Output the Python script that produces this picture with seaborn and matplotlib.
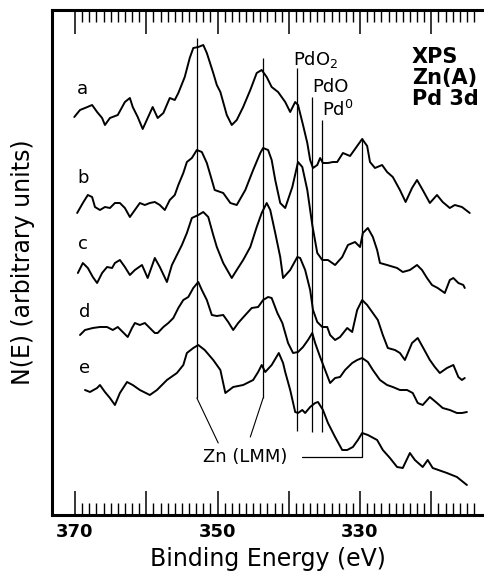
import numpy as np
import pandas as pd
import matplotlib
matplotlib.use('Agg')
import matplotlib.pyplot as plt
import seaborn as sns

# XPS Pd 3d spectra, binding energy (eV) vs N(E) (arbitrary units, offset traces)
spec_a = [(370.1, 398), (369.3, 405), (368.6, 407), (367.6, 410), (366.9, 403), (366.2, 397),
          (365.8, 390), (365.1, 397), (364.0, 400), (363.0, 413), (362.3, 417), (361.9, 408),
          (361.2, 398), (360.5, 386), (359.8, 397), (359.1, 408), (358.4, 397), (357.6, 402),
          (356.7, 417), (356.0, 415), (355.5, 422), (354.6, 438), (353.9, 457), (353.4, 467),
          (352.7, 468), (352.0, 470), (351.5, 462), (350.6, 442), (350.1, 430), (349.6, 423),
          (348.7, 400), (348.0, 390), (347.3, 395), (346.4, 408), (345.4, 425), (344.5, 442),
          (343.8, 445), (343.1, 438), (342.4, 428), (341.5, 423), (340.5, 413), (339.8, 403),
          (339.1, 413), (338.7, 410), (338.0, 390), (337.4, 372), (337.0, 355), (336.6, 347),
          (336.0, 350), (335.6, 357), (335.2, 352), (334.5, 352), (333.8, 353), (333.2, 353),
          (332.4, 362), (331.4, 359), (330.4, 369), (329.7, 376), (329.0, 369), (328.6, 353),
          (327.9, 347), (326.9, 350), (326.2, 343), (325.4, 338), (324.4, 325), (323.6, 313),
          (322.7, 327), (322.0, 335), (321.2, 325), (320.2, 312), (319.2, 320), (318.4, 313),
          (317.4, 307), (316.7, 310), (315.7, 308), (314.6, 302)]

spec_b = [(369.7, 302), (368.9, 312), (368.2, 320), (367.6, 318), (367.2, 308), (366.5, 305),
          (365.8, 308), (365.1, 307), (364.4, 312), (363.7, 312), (363.0, 307), (362.3, 298),
          (361.6, 305), (360.9, 312), (360.2, 310), (359.5, 312), (358.8, 313), (358.1, 310),
          (357.4, 305), (356.7, 315), (356.0, 320), (355.5, 330), (354.8, 342), (354.3, 353),
          (353.6, 357), (352.9, 365), (352.2, 363), (351.5, 352), (350.8, 335), (350.4, 325),
          (349.2, 322), (348.2, 312), (347.3, 310), (346.1, 325), (345.0, 345), (344.0, 362),
          (343.6, 367), (342.9, 365), (342.4, 355), (341.9, 335), (341.2, 312), (340.5, 307),
          (339.5, 328), (338.7, 353), (338.1, 348), (337.4, 325), (336.7, 290), (336.0, 262),
          (335.3, 255), (334.5, 255), (333.5, 250), (332.5, 258), (331.7, 270), (330.7, 273),
          (330.0, 268), (329.6, 282), (328.9, 287), (328.2, 278), (327.6, 265), (327.2, 252),
          (326.2, 250), (324.8, 247), (324.0, 243), (323.0, 245), (322.0, 250), (321.3, 245),
          (320.6, 237), (319.9, 230), (319.1, 227), (318.1, 222), (317.4, 235), (316.9, 237),
          (316.2, 232), (315.5, 230), (315.3, 227)]

spec_c = [(369.6, 242), (368.9, 252), (368.2, 247), (367.5, 238), (366.9, 232), (366.2, 242),
          (365.5, 248), (364.8, 247), (364.4, 252), (363.7, 255), (363.0, 248), (362.3, 240),
          (361.6, 245), (360.6, 250), (359.8, 237), (358.8, 257), (358.1, 248), (357.1, 233),
          (356.4, 250), (355.7, 260), (355.0, 270), (354.3, 282), (353.6, 297), (352.7, 300),
          (352.0, 303), (351.3, 298), (350.6, 280), (350.1, 268), (349.2, 252), (348.0, 237),
          (347.3, 245), (346.4, 255), (345.4, 268), (344.5, 288), (343.8, 302), (343.1, 312),
          (342.6, 305), (341.9, 282), (341.2, 258), (340.8, 237), (339.8, 245), (338.8, 258),
          (338.4, 257), (337.7, 245), (337.0, 225), (336.6, 205), (336.0, 193), (335.3, 188),
          (334.6, 188), (334.2, 180), (333.5, 175), (332.8, 178), (331.8, 187), (331.1, 183),
          (330.4, 205), (329.7, 215), (329.0, 210), (328.2, 202), (327.5, 195), (326.8, 180),
          (326.1, 167), (325.1, 165), (324.4, 162), (323.7, 155), (322.7, 172), (321.9, 177),
          (321.2, 168), (320.2, 155), (319.5, 148), (318.8, 142), (317.8, 147), (316.9, 150),
          (316.2, 138), (315.7, 135), (315.3, 137)]

spec_d = [(369.3, 180), (368.6, 185), (367.5, 187), (366.5, 188), (365.5, 188), (364.7, 185),
          (364.0, 188), (363.3, 183), (362.6, 178), (362.0, 187), (361.6, 192), (360.9, 190),
          (360.2, 192), (359.5, 187), (358.8, 182), (358.4, 182), (357.6, 188), (356.9, 192),
          (356.2, 197), (355.5, 207), (354.8, 215), (354.1, 218), (353.4, 227), (352.7, 233),
          (352.2, 225), (351.5, 215), (350.8, 200), (350.1, 199), (349.2, 200), (348.5, 193),
          (347.8, 185), (347.1, 192), (346.1, 200), (345.2, 207), (344.3, 208), (343.6, 215),
          (342.9, 218), (342.4, 217), (341.6, 202), (340.9, 192), (340.1, 172), (339.4, 162),
          (338.7, 163), (338.0, 168), (337.3, 175), (336.7, 182), (336.3, 172), (335.6, 158),
          (334.9, 145), (334.2, 132), (333.5, 137), (332.8, 138), (332.1, 145), (331.1, 152),
          (330.4, 155), (329.7, 157), (328.9, 153), (328.2, 145), (327.2, 135), (326.2, 130),
          (325.4, 128), (324.4, 125), (323.4, 125), (322.6, 122), (321.9, 112), (321.2, 110),
          (320.2, 118), (319.2, 112), (318.4, 107), (317.4, 105), (316.4, 102), (315.7, 102),
          (315.0, 103)]

spec_e = [(368.6, 125), (367.9, 123), (366.9, 127), (366.5, 130), (365.8, 123), (365.1, 117),
          (364.4, 110), (363.7, 122), (362.7, 133), (361.9, 130), (360.9, 125), (359.5, 120),
          (358.5, 125), (357.1, 135), (355.7, 142), (354.8, 150), (354.3, 162), (353.4, 167),
          (352.7, 170), (351.8, 165), (350.6, 155), (349.6, 145), (348.9, 122), (347.8, 128),
          (346.4, 130), (345.0, 135), (344.3, 143), (343.8, 150), (343.3, 143), (342.4, 150),
          (341.4, 162), (340.8, 152), (340.5, 143), (339.8, 125), (339.1, 103), (338.7, 102),
          (338.1, 105), (337.7, 102), (337.0, 108), (336.3, 112), (335.9, 113), (335.2, 105),
          (334.5, 92), (333.5, 78), (332.5, 65), (331.8, 65), (331.0, 68), (330.3, 75),
          (329.7, 82), (328.9, 80), (327.6, 75), (326.8, 65), (325.8, 57), (324.8, 48),
          (324.0, 47), (323.0, 62), (322.3, 55), (321.2, 48), (320.5, 55), (319.8, 47),
          (317.8, 42), (316.4, 38), (315.0, 30)]

spectra = {'a': spec_a, 'b': spec_b, 'c': spec_c, 'd': spec_d, 'e': spec_e}
label_pos = {'a': (368.9, 426), 'b': (368.9, 337), 'c': (368.9, 271),
             'd': (368.7, 203), 'e': (368.6, 147)}

# marker lines: Zn LMM peaks and Pd 3d states
line_ev = [352.9, 343.6, 338.8, 336.7, 335.3, 329.7]
line_top = [477, 457, 447, 418, 395, 377]
line_bottom = [117, 117, 84, 83, 83, 58]

major_ticks = [370, 360, 350, 340, 330, 320]
major_labels = ['370', '', '350', '', '330', '']

sns.set_style('ticks')
plt.rcParams['font.family'] = ['DejaVu Sans']
plt.rcParams.update({'text.color': 'black', 'axes.labelcolor': 'black',
                     'axes.edgecolor': 'black', 'xtick.color': 'black',
                     'ytick.color': 'black'})

fig = plt.figure(figsize=(4.84, 5.74), dpi=100)
ax = fig.add_axes([52 / 484, 59 / 574, 432 / 484, 505 / 574])

for name, pts in spectra.items():
    df = pd.DataFrame(pts, columns=['ev', 'n'])
    sns.lineplot(data=df, x='ev', y='n', ax=ax, color='black', lw=1.4,
                 estimator=None, sort=False)
    ax.text(*label_pos[name], name, fontsize=13, ha='center', va='center')

ax.vlines(line_ev, line_bottom, line_top, color='black', lw=0.9)
# leaders to the Zn (LMM) label
ax.plot([352.9, 349.9], [117, 72], color='black', lw=0.8)
ax.plot([343.6, 345.4], [117, 78], color='black', lw=0.8)
ax.plot([338.1, 329.7], [58, 58], color='black', lw=0.9)
ax.text(346.1, 58, 'Zn (LMM)', fontsize=13, ha='center', va='center')

ax.text(339.4, 455, 'PdO$_2$', fontsize=13, ha='left', va='center')
ax.text(336.7, 428, 'PdO', fontsize=13, ha='left', va='center')
ax.text(335.3, 405, 'Pd$^0$', fontsize=13, ha='left', va='center')
ax.text(322.7, 437, 'XPS\nZn(A)\nPd 3d', fontsize=15, fontweight='bold',
        ha='left', va='center', linespacing=1.05)

ax.set_xlim(373.23, 312.6)
ax.set_ylim(0, 505)
ax.set_xticks(major_ticks, labels=major_labels)
ax.set_xticks(np.arange(314, 371), minor=True)
ax.set_yticks([])
ax.tick_params(axis='x', which='major', direction='in', length=17, width=1.1,
               top=True, bottom=True, labelsize=13, pad=6)
ax.tick_params(axis='x', which='minor', direction='in', length=8.5, width=1.0,
               top=True, bottom=True)
for lbl in ax.get_xticklabels():
    lbl.set_fontweight('bold')

ax.spines['right'].set_visible(False)
for side in ['left', 'top', 'bottom']:
    ax.spines[side].set_linewidth(2.2)

ax.set_xlabel('Binding Energy (eV)', fontsize=17, labelpad=4)
ax.set_ylabel('N(E) (arbitrary units)', fontsize=17, labelpad=12)

fig.savefig('out.png', dpi=100)
